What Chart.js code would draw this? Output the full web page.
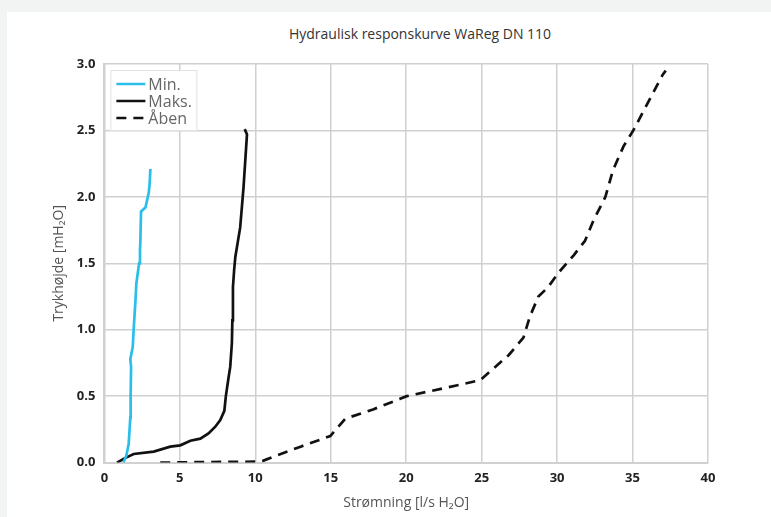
<!DOCTYPE html>
<html>
<head>
<meta charset="utf-8">
<script src="https://cdn.jsdelivr.net/npm/chart.js@4"></script>
<style>
    body { margin: 0; background: #f2f3f3; }
    #card { position: absolute; left: 7px; top: 12px; width: 764px; height: 505px; background: #fff; }
    #title { position: absolute; left: 0; top: 12px; width: 826px; text-align: center; font: 14px 'Open Sans', sans-serif; color: #333; }
    canvas { position: absolute; left: 0; top: 0; }
</style>
</head>
<body>
<div id="card">
    <div id="title">Hydraulisk responskurve WaReg DN 110</div>
    <canvas id="responseChart" width="764" height="505"></canvas>
</div>
<script>
// Data
let minX = [1.26, 1.45, 1.61, 1.72, 1.74, 1.77, 1.72, 1.88, 1.94, 2.05, 2.12, 2.3, 2.36, 2.38, 2.43, 2.72, 2.94, 3.0, 3.05];
let minY = [0.0, 0.05, 0.14, 0.34, 0.5, 0.72, 0.78, 0.87, 1.0, 1.2, 1.35, 1.5, 1.6, 1.65, 1.89, 1.92, 2.03, 2.1, 2.21];

let maksX = [0.84, 1.3, 1.94, 3.27, 4.37, 5.03, 5.7, 6.36, 6.9, 7.35, 7.68, 7.95, 8.05, 8.23, 8.34, 8.45, 8.48, 8.52, 8.6, 8.68, 9.0, 9.22, 9.45, 9.3];
let maksY = [0.0, 0.03, 0.065, 0.083, 0.12, 0.13, 0.165, 0.18, 0.22, 0.27, 0.32, 0.39, 0.5, 0.64, 0.72, 0.9, 1.07, 1.32, 1.45, 1.55, 1.77, 2.07, 2.47, 2.51];

let abenX = [3.7, 6, 8, 10.0, 10.55, 11.2, 13, 14.97, 15.96, 17.8, 19.6, 20.04, 22.5, 24.9, 26.8, 27.77, 28.2, 28.76, 29.4, 30.1, 31.1, 31.85, 32.4, 33.2, 33.7, 34.4, 35.05, 35.7, 37.0, 37.2];
let abenY = [0, 0.003, 0.005, 0.007, 0.015, 0.045, 0.12, 0.2, 0.33, 0.4, 0.48, 0.5, 0.56, 0.62, 0.81, 0.94, 1.1, 1.25, 1.32, 1.43, 1.56, 1.67, 1.82, 2.0, 2.2, 2.38, 2.5, 2.64, 2.92, 2.95];

let seriesLabels = ['Min.', 'Maks.', 'Åben'];

function toPoints(xs, ys) {
    return xs.map(function(x, i) { return { x: x, y: ys[i] }; });
}

// legend box drawn inside the plot area
let legendBox = {
    id: 'legendBox',
    afterDatasetsDraw: function(chart) {
        let ctx = chart.ctx;
        let area = chart.chartArea;
        let left = area.left + 6;
        let top = area.top + 6;
        ctx.save();
        ctx.fillStyle = '#ffffff';
        ctx.fillRect(left, top, 87, 61);
        ctx.strokeStyle = '#e2e2e2';
        ctx.lineWidth = 1;
        ctx.strokeRect(left + 0.5, top + 0.5, 86, 60);
        chart.data.datasets.forEach(function(ds, i) {
            let y = area.top + 20 + i * 17;
            ctx.beginPath();
            ctx.setLineDash(ds.borderDash || []);
            ctx.strokeStyle = ds.borderColor;
            ctx.lineWidth = 2.5;
            ctx.moveTo(area.left + 12, y);
            ctx.lineTo(area.left + 41, y);
            ctx.stroke();
            ctx.setLineDash([]);
            ctx.fillStyle = '#666';
            ctx.font = '16px "Open Sans", sans-serif';
            ctx.textBaseline = 'middle';
            ctx.fillText(ds.label, area.left + 44, y + 1);
        });
        ctx.restore();
    }
};

let ctx = document.getElementById('responseChart').getContext('2d');

let responseChart = new Chart(ctx, {
    type: 'scatter',
    data: {
        datasets: [{
            label: seriesLabels[0],
            data: toPoints(minX, minY),
            borderColor: '#29bfea',
            borderWidth: 2.7,
            showLine: true,
            pointRadius: 0
        }, {
            label: seriesLabels[1],
            data: toPoints(maksX, maksY),
            borderColor: '#111111',
            borderWidth: 2.7,
            showLine: true,
            pointRadius: 0
        }, {
            label: seriesLabels[2],
            data: toPoints(abenX, abenY),
            borderColor: '#111111',
            borderWidth: 2.7,
            borderDash: [10, 7],
            showLine: true,
            pointRadius: 0
        }]
    },
    options: {
        responsive: false,
        animation: false,
        layout: {
            padding: { top: 52, left: 40, right: 63, bottom: 2 }
        },
        plugins: {
            legend: { display: false },
            title: { display: false },
            tooltip: { enabled: false }
        },
        scales: {
            x: {
                type: 'linear',
                min: 0,
                max: 40,
                ticks: {
                    stepSize: 5,
                    color: '#222',
                    padding: 8,
                    font: { family: 'Open Sans', size: 13, weight: 'bold' }
                },
                grid: { color: '#d0d0d0', lineWidth: 1.5, drawTicks: false },
                border: { color: '#d0d0d0', width: 2 },
                title: {
                    display: true,
                    text: 'Strømning [l/s H₂O]',
                    color: '#555',
                    font: { family: 'Open Sans', size: 14 },
                    padding: { top: 0 }
                }
            },
            y: {
                min: 0,
                max: 3,
                ticks: {
                    stepSize: 0.5,
                    color: '#222',
                    padding: 9,
                    font: { family: 'Open Sans', size: 13, weight: 'bold' },
                    callback: function(value) { return value.toFixed(1); }
                },
                grid: { color: '#d0d0d0', lineWidth: 1.5, drawTicks: false },
                border: { color: '#d0d0d0', width: 2 },
                title: {
                    display: true,
                    text: 'Trykhøjde [mH₂O]',
                    color: '#555',
                    font: { family: 'Open Sans', size: 14 },
                    padding: { bottom: 0 }
                }
            }
        }
    },
    plugins: [legendBox]
});
</script>
</body>
</html>
